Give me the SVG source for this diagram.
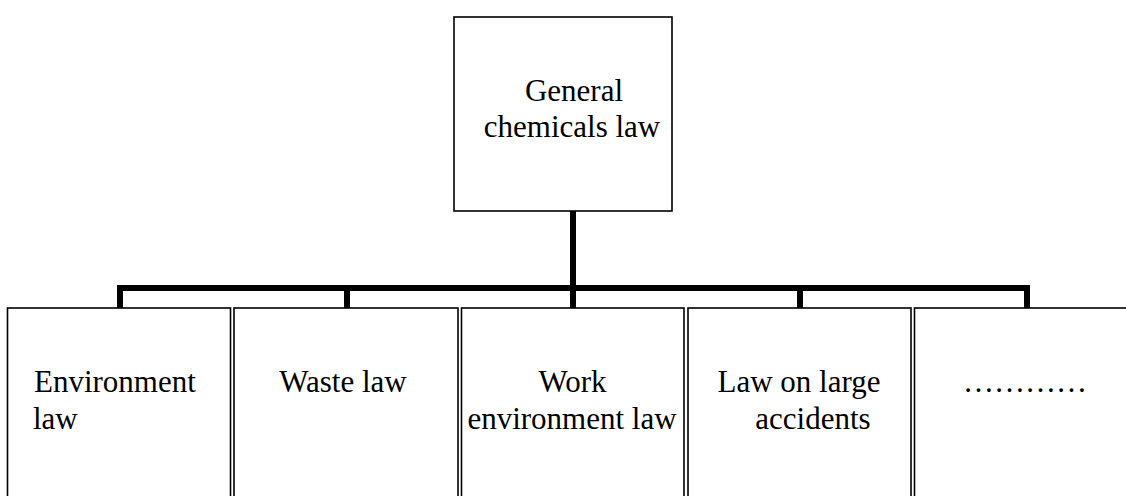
<svg xmlns="http://www.w3.org/2000/svg" width="1126" height="496" viewBox="0 0 1126 496">
<style>
.box{fill:#fff;stroke:#000;stroke-width:1.6}
.t{font-family:"Liberation Serif","Times New Roman",serif;font-size:31px;fill:#000}
.c{text-anchor:middle}
.conn{fill:none;stroke:#000;stroke-width:6;stroke-linejoin:miter;stroke-linecap:butt}
</style>
<rect width="1126" height="496" fill="#fff"/>
<g id="connectors">
<path class="conn" d="M120,308 V288 H1027 V308 M347,288 V308 M800,288 V308 M573,211 V308"/>
</g>
<g id="general">
<rect class="box" x="454" y="17" width="218" height="194"/>
<text class="t c" x="574" y="101">General</text>
<text class="t c" x="572" y="137">chemicals law</text>
</g>
<g id="environment">
<rect class="box" x="7.5" y="308" width="223" height="200"/>
<text class="t" x="34" y="392">Environment</text>
<text class="t" x="33" y="429">law</text>
</g>
<g id="waste">
<rect class="box" x="234" y="308" width="224" height="200"/>
<text class="t c" x="343" y="392">Waste law</text>
</g>
<g id="work">
<rect class="box" x="461.5" y="308" width="222.5" height="200"/>
<text class="t c" x="572.5" y="392">Work</text>
<text class="t c" x="572" y="429">environment law</text>
</g>
<g id="accidents">
<rect class="box" x="688" y="308" width="223" height="200"/>
<text class="t c" x="799" y="392">Law on large</text>
<text class="t c" x="813" y="429">accidents</text>
</g>
<g id="more">
<rect class="box" x="914.5" y="308" width="240" height="200"/>
<text class="t c" x="1025" y="392">…………</text>
</g>
</svg>
